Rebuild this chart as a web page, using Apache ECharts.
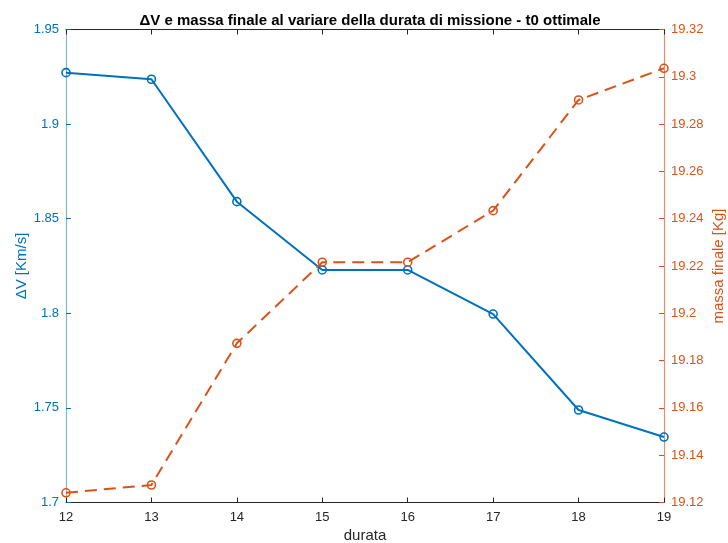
<!DOCTYPE html>
<html>
<head>
<meta charset="utf-8">
<script src="https://cdn.jsdelivr.net/npm/echarts@6/dist/echarts.min.js"></script>
<style>
  html, body { margin: 0; padding: 0; background: #fff; }
  #chart { width: 728px; height: 543px; }
</style>
</head>
<body>
<div id="chart"></div>
<script>
// dati
var durata = [12, 13, 14, 15, 16, 17, 18, 19];
var deltaV = [1.9272, 1.9237, 1.859, 1.8229, 1.8229, 1.7996, 1.7489, 1.7346];
var massaFinale = [19.1241, 19.1274, 19.1873, 19.2216, 19.2216, 19.2434, 19.2902, 19.3036];

var blu = '#0072BD';
var arancio = '#D95319';
var grigio = '#262626';

function coppie(xs, ys) {
  return xs.map(function (x, i) { return [x, ys[i]]; });
}

var myChart = echarts.init(document.getElementById('chart'));
var option = {
  backgroundColor: '#fff',
  animation: false,
  textStyle: { fontFamily: 'Liberation Sans, Arial, sans-serif' },
  title: {
    text: 'ΔV e massa finale al variare della durata di missione - t0 ottimale',
    left: 365,
    textAlign: 'center',
    top: 8,
    textStyle: { fontSize: 15, fontWeight: 'bold', color: '#000' }
  },
  grid: { left: 66, right: 64, top: 29.5, bottom: 40.5, containLabel: false, outerBoundsMode: 'none' },
  xAxis: [
    {
      type: 'value',
      min: 12, max: 19, interval: 1,
      name: 'durata',
      nameLocation: 'middle',
      nameGap: 26,
      nameTextStyle: { color: grigio, fontSize: 15 },
      axisLine: { lineStyle: { color: grigio, width: 1 } },
      axisTick: { inside: true, length: 5, lineStyle: { color: grigio } },
      axisLabel: { color: grigio, fontSize: 13, margin: 8 },
      splitLine: { show: false }
    },
    {
      type: 'value',
      position: 'top',
      min: 12, max: 19, interval: 1,
      axisLine: { lineStyle: { color: grigio, width: 1 } },
      axisTick: { inside: true, length: 5, lineStyle: { color: grigio } },
      axisLabel: { show: false },
      splitLine: { show: false }
    }
  ],
  yAxis: [
    {
      type: 'value',
      min: 1.7, max: 1.95, interval: 0.05,
      name: 'ΔV [Km/s]',
      nameLocation: 'middle',
      nameGap: 37,
      nameMoveOverlap: false,
      nameRotate: 90,
      nameTextStyle: { color: blu, fontSize: 15 },
      axisLine: { show: true, lineStyle: { color: '#7ab8e0', width: 1.2 } },
      axisTick: { show: true, inside: true, length: 5, lineStyle: { color: blu } },
      axisLabel: { color: blu, fontSize: 13, margin: 7 },
      splitLine: { show: false }
    },
    {
      type: 'value',
      position: 'right',
      min: 19.12, max: 19.32, interval: 0.02,
      name: 'massa finale [Kg]',
      nameLocation: 'middle',
      nameGap: 47,
      nameMoveOverlap: false,
      nameRotate: 90,
      nameTextStyle: { color: arancio, fontSize: 15 },
      axisLine: { show: true, lineStyle: { color: '#e0926a', width: 1.2 } },
      axisTick: { show: true, inside: true, length: 5, lineStyle: { color: arancio } },
      axisLabel: {
        color: arancio, fontSize: 13, margin: 7,
        formatter: function (v) { return String(parseFloat(v.toFixed(2))); }
      },
      splitLine: { show: false }
    }
  ],
  series: [
    {
      name: 'ΔV',
      type: 'line',
      xAxisIndex: 0,
      yAxisIndex: 0,
      data: coppie(durata, deltaV),
      symbol: 'circle',
      symbolSize: 8,
      lineStyle: { color: blu, width: 2 },
      itemStyle: { color: 'rgba(0,0,0,0)', borderColor: blu, borderWidth: 1.6 }
    },
    {
      name: 'massa finale',
      type: 'line',
      xAxisIndex: 0,
      yAxisIndex: 1,
      data: coppie(durata, massaFinale),
      symbol: 'circle',
      symbolSize: 8,
      lineStyle: { color: arancio, width: 2, type: [12, 7] },
      itemStyle: { color: 'rgba(0,0,0,0)', borderColor: arancio, borderWidth: 1.6 }
    }
  ]
};
myChart.setOption(option);
</script>
</body>
</html>
